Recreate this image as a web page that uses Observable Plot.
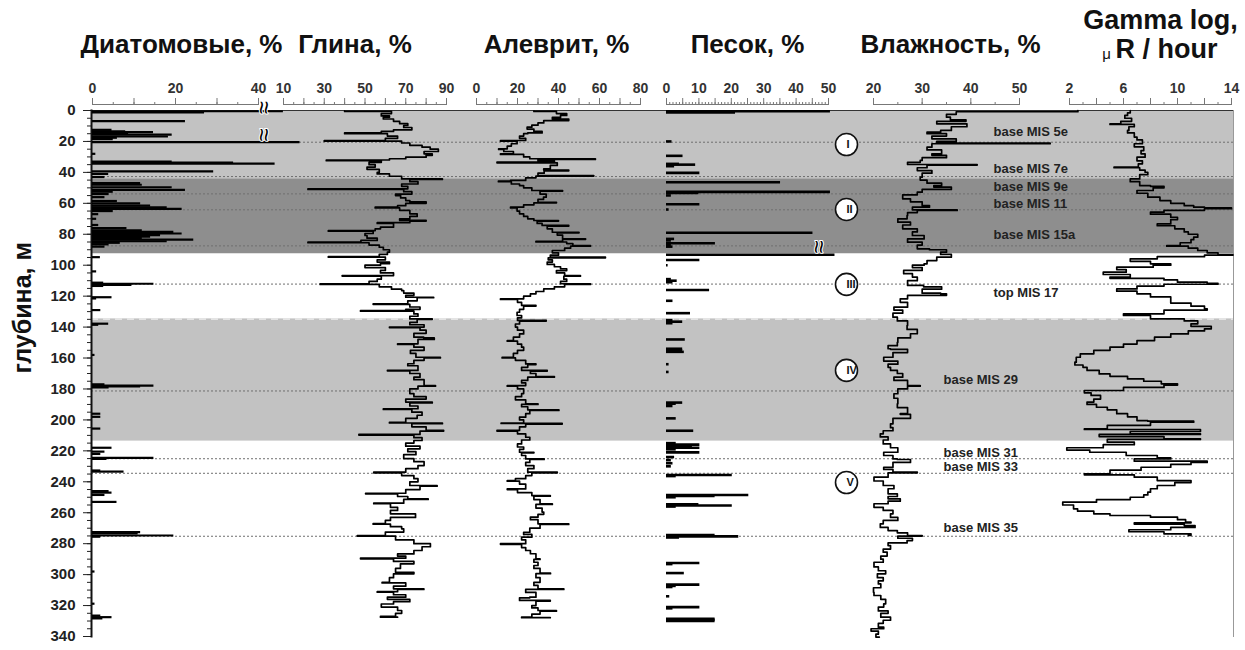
<!DOCTYPE html>
<html>
<head>
<meta charset="utf-8">
<script src="https://cdn.jsdelivr.net/npm/d3@7"></script>
<script src="https://cdn.jsdelivr.net/npm/@observablehq/plot@0.6"></script>
<style>
  body { margin: 0; background: #fff; }
  #chart { position: relative; width: 1245px; height: 650px; background: #fff; }
  #chart svg { position: absolute; left: 0; top: 0; overflow: visible; }
</style>
</head>
<body>
<div id="chart"></div>
<script>
// ---------- Data: depth in metres ----------

// Diatoms, % (horizontal bars from 0)
const diatomDepth = [0.5,1.2,6.9,12.5,13.5,14,15,15.6,16.8,17.6,18.5,20.5,28,33,33.6,34.3,39.4,41,43,47,48,49.6,51.3,52.5,54,56,58.5,60,61.5,62.6,63.6,65,67,70,74,76,77.5,78.5,79.5,80.5,81.5,82.5,83.5,84.5,85.5,86.5,88,94.8,104,111.3,112,112.7,113.4,120.7,121.5,129,137.8,138.5,158,177,177.8,178.4,179,196,198,205.6,218,220.5,222,224.5,225.2,232.7,233.4,246,247,248.5,253,272.5,273.3,274.7,275.5,298,318.8,326.5,327.5,328.3];
const diatomValue = [46,27,22.4,4.7,8,14.7,8.7,19.2,18.3,6,5,50,0.8,19.2,34,44,29.2,3.9,3,11.6,12,19.2,22.4,5,4,3,6,11.6,14,18,21.6,5,1.5,1,1.5,8.3,12,19.6,21.6,16.4,14,12,24.4,18,6.7,4,3,1.9,1,2.7,14.8,9.5,2.7,4.7,1,2,3.9,1.5,0.6,3,14.8,11.6,4,2,2,2,4.7,3,2,14.8,3.5,2,7.6,4,4.7,3,5.9,11.6,11,19.6,2,0.6,0.6,2,4.7,2.5];

// Clay, %
const clayDepth = [0.3,0.6,2,3.5,4.3,5.5,7,8.5,9.7,11,12.5,13.5,14.5,15,16.5,18,19.4,19.8,21,22.5,23.7,25,26.5,28,29,30.2,31.2,32,32.4,33.5,35,36.6,38,39.9,41,42.5,44.2,44.6,46,47.5,49,50.6,51,52.5,54,55,56.5,58.2,59,60,61.5,62.5,63,64.5,66.8,68.5,70,71,71.5,72.5,73,75.4,76.5,77.6,78,79.5,80.8,82.5,84,85.1,85.5,87,88.4,90,91.6,93,94.4,94.8,96.5,98,99,100,101.5,103.4,105,106.7,107,109,110.5,112,112.4,114,115.5,116.4,118,119.5,120.7,121,123,125,125.3,127,128.5,129.3,129.7,131.5,133,134.7,135,137,138.5,140,140.3,142,144,146.5,147,148,150.8,151.2,153,155,157,159.5,159.9,161.5,163.7,165,168,168.3,170,172.4,174,177.8,178.2,180,183,185,186.5,188.5,189,191,192.8,193.2,195,197,199,201.5,202,202.4,204.5,206.8,207.2,209.4,209.8,211.5,213.3,215,217,218.7,220.5,222.5,225,227,229.5,231.5,233.8,234.2,236,238,240,242.4,242.8,245,247.4,247.8,249.5,251,251.4,253.8,254.2,256.5,258.5,260.7,262.5,263,265,267,267.4,269,270.4,272.5,274.7,275.1,277.5,280,282,284.4,286.6,288,289.4,289.8,291.5,293,296,298.5,299.5,302,305,305.4,307.5,309.2,309.6,311,311.4,313,314.6,316,317.5,319,321,323.2,325,327,327.5];
const clayValue = [40,63,58,62,59,64,67,71,69,73,64,58,40,61,66,60,30,68,72,78,82,86,79,83,80,70,62,31,58,52,55,51,57,56,62,68,88,72,76,68,71,22,69,73,65,67.5,70,72,80,70,66,55,67,72,75.6,72,67,80,72,56,64,57.6,55,32,54,50,51,56,48,22,52,57,59,62,61,57,32,60,56,62,57.6,50,60,57.6,64,38.8,58,56,52,28,57,63,68,69,74,70,83.7,75.6,71,54,72,77,70,47.8,74,76,72,83,75.6,72,79,62,77,80,74,78.8,84,76,66,74,79,72.3,75,87,79,74,71,76,61,72,77,74,79,84.6,76,72,74,80,70,83,72,76,59,73,78,75.6,70,62,88,73,80,88.6,77,47,74,78,74,70,77,71,75,69,74,79,76,70,54.3,68,74,76,72,85.4,77,70,50.3,66,71,81,69,54.3,62.5,66,62.5,74.8,74.8,62.5,60,54,62.5,68,69,60,46.2,65,74,82.1,78,74,66,70,47.8,64,74,67.4,65,74,64,62,58.4,70,64,78.9,66,56,64,70,61,72,64,58,66,68,65,57.6,66];

// Silt, %
const siltDepth = [0.3,0.6,2,3.2,4.5,5.5,6.5,8,9.5,10.8,12,13.5,14.5,15,16.5,18,19.4,19.8,21.5,23,24.8,25.2,26.5,28,28.4,30,31.2,31.6,32.5,33.4,33.8,35.5,37.7,38.5,39,40.5,42,42.4,43.5,45.2,45.6,46,47.5,48.5,50,51.7,52.1,54,56,57.5,59.3,59.7,61,62.5,63,65,66.8,68.5,70,71.1,71.5,73,74.3,74.7,76.5,78.7,79.1,80.5,82.9,83.3,84.5,85,86,87.3,87.7,89,90.5,92,93.5,94.8,95.2,96.5,98,99.5,101,102.3,103.5,105,106.7,107.1,109,110.5,112,112.4,114,115.3,117,118.5,120,121.7,122.1,124,126,126.4,128.5,130.4,132.5,134,135.7,136.1,138,140,142,144.4,146.5,148.7,149.1,151,153,155,157,159.5,159.9,161.5,163.8,164.2,166,168,168.4,170,172,172.4,174.5,176,177.8,178.2,180,183,185,187,189.6,190,191.5,193.5,193.9,196,198.2,200,202,202.3,202.7,204.5,206.8,207.2,209,211.2,213,215.5,217.5,219,220.9,221.3,223,225.2,225.6,227.5,229.5,231.5,233.8,234.2,236,238,239.2,239.6,241.5,244.6,245,247,248.9,249.3,251.5,254.2,254.6,257,259.6,261,262.9,264.5,267.2,267.6,270,272.6,274,275.8,277.5,280,280.4,282.5,284.4,286.5,289.8,290.2,292,294.1,296,299,299.4,302,305,307,309.2,309.6,311.5,314.6,315,316.7,317.1,320,321.5,323.2,323.6,325.5,327.5,327.8];
const siltValue = [28,39,44,41,37,45,32.8,30,27,24.7,28,32,25,23,21,24,11.7,19.8,17,15,10.8,13.3,18,11.7,23,26,58,30,38,10,39.4,36,32.8,45,33,30,57.2,29,24,16.6,10.7,17,21,23,27,42,31,34,32.7,30,39,28,23,16.6,19.8,21,23,25,28,40,29.6,32,45,34.5,37,50,39.4,42,53.2,42,29,44,47,55.6,45.9,43,37,40,36,62.9,35,37,34.5,38,41,44,39,43,50.7,42.6,44,41,55.6,43,38,32.8,29,26.3,23,11.7,20,22,29,23,21,19.8,22,20,34,21,19,20,23,21,18,15,20,22,23,20,18,12.5,19,24,29,25,22,34.5,26.3,29,38,25,22,24,15,20,23,22,19,24,30,22,25,40.2,26,24,21,23,12,41.8,24,21,10,20,24,26,22,20,23,21,28,22,24,33,26,24,28,25,39.4,27,24,19,15,21,24,15,20,27,36,28,31,37,29,32,32.8,30,26.3,30,45,31,26,23,27,22,24,11.7,22,24,26.3,29,31,28,30,28,31,36.1,29,31,28,30,42.6,24,29,26,21,36,29,27,30,39,31,27,22,36];

// Sand, % (horizontal bars from 0)
const sandDepth = [0.5,1.2,20,29.3,34.5,35,36,40.3,46.4,52.6,53.3,54.9,60.6,64,79,83,84,85.8,87,88,93.2,96.6,100,109,110,111,116,123,131,135.5,136.5,137.5,148,154,155,156,164,169,188.8,189.5,191,199,207,215,216,217,218,219,221,224,226,228,230,235.6,236.3,248.5,249.2,250,254.5,255.3,256,274.5,275.3,276,292.5,293.2,299,306.5,307.3,308,314,321,321.8,328.5,329.2,330];
const sandValue = [50.6,21.3,1.7,5.1,4,9,2.5,10.3,35.2,50.6,10,1.5,10.3,0.8,45.2,2.5,1.5,15.1,1.5,2,52,10.3,0.5,1.5,3.3,2,13.3,2,7.4,2,5,2,5.8,5,5,5.5,0.8,0.8,5,3,2,3,8.4,3,10.3,8,10.3,3,10.3,2.5,1.5,2,1.5,20.3,3,25.4,15,3,10,20.3,3,15,22.3,4,10.3,2,5.5,10.3,3,2,1,10.3,2,15,15,15];

// Moisture, %
const moistDepth = [0,0.5,0.8,2.5,4.3,6,7,8.6,10.5,12.9,14,15,16.5,18.3,20,21.1,21.5,23.7,25.5,28,29,30.5,32.3,33.5,34.9,35.3,37,38.8,40.5,43.1,45,47,48.5,49.5,51,52.8,54.5,57.1,59,61.4,62.5,64.2,64.6,66,67.9,70,72.2,74,76.5,78.5,80.8,83,85.1,87,89.4,90,91.6,93,94.8,97,99.1,100,101.5,103.4,105.5,107.7,110,113.1,114,115.5,118.1,118.5,119.5,121.7,124,127.1,129,131,133.6,136,139,141.5,144.3,147,149.8,152,154,154.4,156.5,159.5,162,164,166,168,170,172.4,174.5,177.8,178.2,180,183.1,186,189.6,192,196,196.4,199,202.5,205,207,209,211,213,215.5,218,220.9,223,225.2,225.6,227.5,230.6,232,233.8,234.2,237,239.5,242.4,244.5,247.8,249.5,251,252.5,254.2,256.5,258.5,260.7,263,265,267.2,269.5,271.5,273,274.7,275.1,276.5,278,279.5,281.2,283.5,285.5,288,290,292,295,297.5,299.5,302,304,306,308.5,311.4,313.5,316,318.9,321,323.5,325,327.5,329.5,331.5,334,335,336.5,338.5,340.4];
const moistValue = [62,62,37,35,35.8,39,33,39.2,36,33.8,31,35,32,37,33,56.3,32,31,34,32,35,30,29.6,27,41.3,31,29,32,30,29.6,31,34,32.4,36,30,29,26,27.6,30,31.5,28,37.2,29,27,26.9,25,27.6,26,29,28,30.4,27,30,29,31.5,35,33.8,36,33,31,30.4,28,30,26.2,28,29,27,30.3,34,30,33.8,35,27,25.5,27,24.2,26,24,24.9,27,26.9,29,27.6,25,24.9,23,23.5,27,24,22.1,25,23,23.5,24.9,26,24.2,27,29.6,27,25,24.2,25,24.9,27,25.5,27.6,24,23.5,24,22,21.4,23,22,23.5,25,22.1,24,24.9,27.6,24,22.1,24,29,23,20.1,22,24.2,23,24.9,23,25.5,23,20.1,22,24,23.5,25,22,21.4,23,24.9,27,30,25,28,26.9,23,23.5,22,22.8,21.5,22,20.1,21,22.5,20.8,22,21,21.5,20,20.1,21.5,22.5,22.1,21,23,21.5,23.5,22,21,22.1,19.5,21,20.5,21.2];

// Gamma log, µR/hour
const gammaDepth = [0,1.5,3.2,5,7,8.6,9,10.5,12.9,14.5,17.2,19,21.5,23.5,25.9,28,30.2,32.5,34.5,36.6,37,38.5,39.9,41.5,44.2,46,48.5,49,50,51.7,53.5,56,58.2,60,61.5,62.5,63,63.5,64.5,65.7,67,69,70.5,73.3,74.5,76.5,78.5,80,81.9,83.5,85.5,87.3,87.7,89,90.5,92,93.1,93.5,94.5,95.9,97.5,99.1,100,101.3,102.8,104.5,106,107.7,108.5,109.5,111,111.8,112.3,113.5,115.3,116.8,118.5,120.5,122.8,124.5,126.5,128.2,129,131.4,132.5,134.7,136,137.9,139.5,141.1,142.5,144.4,146.5,148.7,151,153,155,157.3,159.5,162.7,164.5,166,168,170.3,171.8,173.5,175,176.7,177.5,179,181,182.5,184.2,186.5,188.5,190,191.8,193.5,196,198,200.4,200.8,201.5,203.5,205.8,206.2,207.5,209,209.4,210.8,212.2,212.6,214.4,216,218,219.5,220.9,223,224.5,225.2,226.7,227.5,228.8,230.6,232.5,234.9,235.5,237,239.2,240.5,242.4,244.5,246.7,248.5,250,251.5,253.2,255,257.5,259,260.7,261.8,262.9,264.5,266.1,266.5,267.3,268.3,269.5,271,272.3,273.6,274.6];
const gammaValue = [6.5,6.3,6.1,6.6,5.8,5.0,6.8,6.4,6.3,6.8,7.0,7.4,6.8,7.5,7.3,7.6,7.0,7.4,7.1,5.3,7.2,7.6,7.8,7.2,6.5,7.2,8.0,9.0,8.2,7.0,7.8,8.7,9.5,10.5,11.2,12,14,12,9,8.0,9.5,10,9.5,8.5,9.8,10.5,10.8,11.5,11.2,11,10.2,9.2,10.8,11.5,12.2,13,14.1,12,8.5,6.5,8,9.5,8.2,5.5,6.2,4.5,6.5,5.0,9,10,12.2,13,9,7,5.5,7,8.0,9.5,9.5,11,12,12.2,9,6.0,8,10.5,11.5,11.0,12.5,12.0,10.8,9.5,8.3,7.0,6.0,5.0,3.8,2.8,2.5,2.4,3,3.3,4.2,5.0,6.3,7.5,8.8,10,9,6,3.1,3.6,4.3,3.8,3.3,4,4.8,5.5,6.3,7,7.8,11.2,8,4.8,3.1,11.7,6.5,11.7,4.2,9,11.7,4.8,6.8,4.5,1.8,3.5,6.2,8.5,9.5,6.8,12.2,11,9.5,7.3,5,3.1,6.8,8.5,11.0,9.8,8.5,8,7.8,7.5,6.5,4,1.5,2.3,2.6,3.8,5.0,8,10,10.6,11,6.8,10.5,11.3,9.5,6.4,9,11,10.8];

// Lithological units and stratigraphic markers
const bandTop    = [0, 44.2, 134.7];
const bandBottom = [44.2, 92.6, 213.7];
const bandFill   = ["#c2c2c2", "#8e8e8e", "#c2c2c2"];
const misDepth = [20.5, 42.7, 53.9, 64.2, 87.5, 112.2, 181.3, 225.1, 234.5, 275.2];
const misUpperText  = ["base MIS 5e", "base MIS 7e", "base MIS 9e", "base MIS 11", "base MIS 15a", "top MIS 17"];
const misUpperDepth = [13.6, 37.5, 49.1, 60.1, 80.2, 117.6];
const misLowerText  = ["base MIS 29", "base MIS 31", "base MIS 33", "base MIS 35"];
const misLowerDepth = [173.9, 221, 230.6, 270];
const unitText  = ["I", "II", "III", "IV", "V"];
const unitDepth = [22, 64, 112.4, 168, 240.5];
const diatomBreakDepth = [2.2, 19.8];
const sandBreakDepth = [92.2];

// Tick values for each track's scale bar
const depthTicks = d3.range(0, 341, 20);
const diatomTicks = [0, 20, 40];
const clayTicks = [10, 30, 50, 70, 90];
const siltTicks = [0, 20, 40, 60, 80];
const sandTicks = [0, 10, 20, 30, 40, 50];
const moistTicks = [20, 30, 40, 50];
const gammaTicks = [2, 6, 10, 14];

// ---------- Layout ----------
const W = 1245, H = 650;
const FONT = "'Liberation Sans', Arial, sans-serif";
const yScale = {domain: [0, 340], range: [110, 636], axis: null};
const zip = (ds, vs) => ds.map((d, i) => ({depth: d, value: vs[i]}));

const chart = document.getElementById("chart");

// Background: units, marker lines, depth axis, annotations
const bands = bandTop.map((t, i) => ({top: t, bottom: bandBottom[i], fill: bandFill[i]}));
const upper = misUpperText.map((t, i) => ({text: t, depth: misUpperDepth[i]}));
const lower = misLowerText.map((t, i) => ({text: t, depth: misLowerDepth[i]}));
const units = unitText.map((t, i) => ({text: t, depth: unitDepth[i]}));

const base = Plot.plot({
  width: W, height: H,
  marginLeft: 91, marginRight: 12, marginTop: 110, marginBottom: 14,
  x: {domain: [0, 1], axis: null},
  y: yScale,
  style: {fontFamily: FONT, background: "transparent", overflow: "visible"},
  marks: [
    Plot.rect(bands, {y1: "top", y2: "bottom", x1: 0, x2: 1, fill: "fill"}),
    Plot.ruleY([bandTop[2]], {stroke: "#e4e4e4", strokeWidth: 2, strokeDasharray: "7,5"}),
    Plot.ruleY(misDepth, {stroke: "#6f6f6f", strokeWidth: 1, strokeDasharray: "2,2"}),
    Plot.frame({anchor: "top", stroke: "#333"}),
    Plot.frame({anchor: "right", stroke: "#999"}),
    Plot.axisY({ticks: d3.range(0, 341, 5), tickSize: 4, tickFormat: () => "", label: null, stroke: "#222"}),
    Plot.axisY({ticks: depthTicks, tickSize: 8, tickPadding: 8, label: null, fontSize: 15, fontWeight: "bold", fill: "#222", stroke: "#222"}),
    Plot.frame({anchor: "left", stroke: "#111", strokeWidth: 2}),
    Plot.text(["глубина, м"], {frameAnchor: "left", dx: -69, rotate: -90, fontSize: 25, fontWeight: "bold", fill: "#111"}),
    Plot.text(upper, {y: "depth", text: "text", frameAnchor: "left", dx: 902, textAnchor: "start", fontSize: 13, fontWeight: "bold", fill: "#222", ariaLabel: "mis-label"}),
    Plot.text(lower, {y: "depth", text: "text", frameAnchor: "left", dx: 852, textAnchor: "start", fontSize: 13, fontWeight: "bold", fill: "#222", ariaLabel: "mis-label"}),
    Plot.dot(units, {y: "depth", frameAnchor: "left", dx: 755, r: 11, fill: "white", stroke: "#111", strokeWidth: 1.6}),
    Plot.text(units, {y: "depth", text: "text", frameAnchor: "left", dx: 755, fontSize: 11, fontWeight: "bold", fill: "#111", letterSpacing: "-0.5px"})
  ]
});
chart.append(base);

// White boxes behind the stage labels
base.querySelectorAll('g[aria-label="mis-label"] text').forEach(t => {
  const b = t.getBBox();
  const r = document.createElementNS("http://www.w3.org/2000/svg", "rect");
  r.setAttribute("x", b.x - 3);
  r.setAttribute("y", b.y);
  r.setAttribute("width", b.width + 6);
  r.setAttribute("height", b.height);
  r.setAttribute("fill", "white");
  if (t.getAttribute("transform")) r.setAttribute("transform", t.getAttribute("transform"));
  t.parentNode.insertBefore(r, t);
});

// One track per measured property, each with its own horizontal scale bar
function track({left, right, domain, labels, major, minor, title, titleDx = 0, marks}) {
  const svg = Plot.plot({
    width: W, height: H,
    marginLeft: left, marginRight: W - right, marginTop: 104, marginBottom: 14,
    x: {domain, axis: null},
    y: yScale,
    style: {fontFamily: FONT, background: "transparent", overflow: "visible"},
    marks: [
      Plot.frame({anchor: "top", stroke: "#777"}),
      Plot.axisX({anchor: "top", ticks: minor, tickSize: 3, tickFormat: () => "", label: null, stroke: "#777"}),
      Plot.axisX({anchor: "top", ticks: major, tickSize: 7, tickFormat: () => "", label: null, stroke: "#777"}),
      Plot.axisX({anchor: "top", ticks: labels, tickSize: 0, tickPadding: 12, label: null, fontSize: 14, fontWeight: "bold", fill: "#333"}),
      title ? Plot.text([title], {frameAnchor: "top", dx: titleDx, dy: -52, lineAnchor: "bottom", fontSize: 26, fontWeight: "bold", fill: "#111"}) : null,
      ...marks
    ]
  });
  chart.append(svg);
  return svg;
}

const barStyle = {stroke: "#000", strokeWidth: 2.2};
const lineStyle = {stroke: "#000", strokeWidth: 1.7, curve: "step-before"};

track({
  left: 92, right: 258, domain: [0, 40], labels: diatomTicks,
  major: d3.range(0, 41, 10), minor: d3.range(0, 41, 5),
  title: "Диатомовые, %", titleDx: 6,
  marks: [
    Plot.ruleY(zip(diatomDepth, diatomValue), {y: "depth", x1: 0, x2: "value", ...barStyle}),
    Plot.text(diatomBreakDepth, {y: d => d, frameAnchor: "right", dx: 5, text: () => "≈", rotate: 90, fontSize: 24, fill: "#000", stroke: "#fff", strokeWidth: 2, paintOrder: "stroke"})
  ]
});

track({
  left: 283, right: 446, domain: [10, 90], labels: clayTicks,
  major: d3.range(10, 91, 10), minor: d3.range(10, 91, 5),
  title: "Глина, %", titleDx: -10,
  marks: [Plot.line(zip(clayDepth, clayValue), {x: "value", y: "depth", ...lineStyle})]
});

track({
  left: 476, right: 640, domain: [0, 80], labels: siltTicks,
  major: d3.range(0, 81, 10), minor: d3.range(0, 81, 5),
  title: "Алеврит, %", titleDx: -2,
  marks: [Plot.line(zip(siltDepth, siltValue), {x: "value", y: "depth", ...lineStyle})]
});

track({
  left: 666, right: 828, domain: [0, 50], labels: sandTicks,
  major: d3.range(0, 51, 5), minor: d3.range(0, 51, 1),
  title: "Песок, %", titleDx: 0,
  marks: [
    Plot.ruleY(zip(sandDepth, sandValue), {y: "depth", x1: 0, x2: "value", stroke: "#000", strokeWidth: 2.6}),
    Plot.text(sandBreakDepth, {y: d => d, frameAnchor: "right", dx: -10, text: () => "≈", rotate: 90, fontSize: 24, fill: "#000", stroke: "#fff", strokeWidth: 2, paintOrder: "stroke"})
  ]
});

track({
  left: 873, right: 1019, domain: [20, 50], labels: moistTicks,
  major: d3.range(20, 51, 10), minor: d3.range(20, 51, 5),
  title: "Влажность, %", titleDx: 4,
  marks: [Plot.line(zip(moistDepth, moistValue), {x: "value", y: "depth", ...lineStyle})]
});

track({
  left: 1069, right: 1231, domain: [2, 14], labels: gammaTicks,
  major: d3.range(2, 15, 2), minor: d3.range(2, 15, 1),
  title: null,
  marks: [
    Plot.line(zip(gammaDepth, gammaValue), {x: "value", y: "depth", ...lineStyle}),
    Plot.text(["Gamma log,"], {frameAnchor: "top", dx: 10, dy: -76, lineAnchor: "bottom", fontSize: 27, fontWeight: "bold", fill: "#111", letterSpacing: "1.8px"}),
    Plot.text(["R / hour"], {frameAnchor: "top", dx: 16, dy: -47, lineAnchor: "bottom", fontSize: 27, fontWeight: "bold", fill: "#111", letterSpacing: "0.8px"}),
    Plot.text(["μ"], {frameAnchor: "top", dx: -44, dy: -46, lineAnchor: "bottom", fontSize: 15, fill: "#111"})
  ]
});
</script>
</body>
</html>
